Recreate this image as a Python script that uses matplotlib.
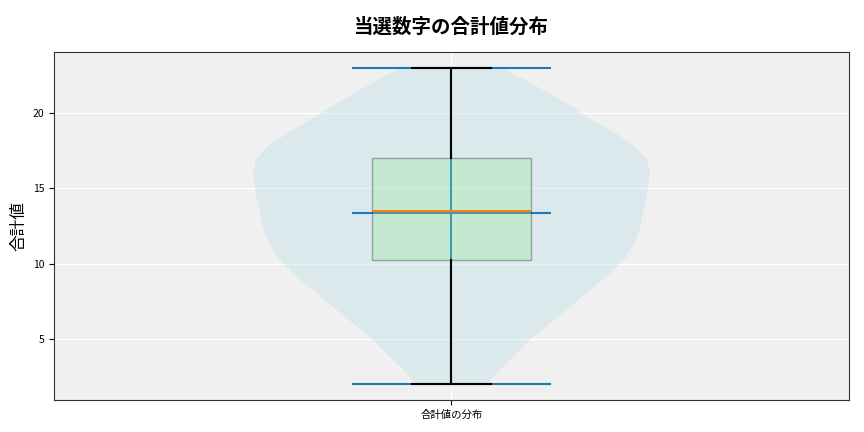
import matplotlib
matplotlib.use("Agg")
import matplotlib.pyplot as plt

plt.rcParams['font.family'] = ['Noto Sans CJK JP', 'DejaVu Sans']

# violin outline: y value -> half-width (relative)
coords = [2.0, 2.18, 2.85, 3.74, 4.84, 5.95, 7.05, 8.16, 9.26, 10.37, 11.47, 12.36,
          13.58, 14.68, 16.01, 16.9, 17.78, 18.67, 19.55, 20.43, 21.32, 22.2, 23.0]
density = [36, 38, 46.5, 60, 76.5, 96.5, 116.5, 136.5, 156.5, 173, 183, 188,
           191.5, 195, 198, 195, 183, 163, 140, 120, 96.5, 73, 49]

# summary numbers
total_min = 2
total_max = 23
total_mean = 13.38
total_median = 13.5
q1 = 10.25
q3 = 17.0

title = '当選数字の合計値分布'
ylabel = '合計値'
xlabel_tick = '合計値の分布'

fig = plt.figure(figsize=(8.64, 4.32), dpi=100)
ax = fig.add_axes([0.0625, 0.074, 0.92, 0.806])
ax.set_facecolor('#f0f0f0')
ax.grid(True, color='white', linewidth=1)
ax.set_axisbelow(True)

vp = ax.violin([{
    'coords': coords,
    'vals': density,
    'mean': total_mean,
    'median': total_median,
    'min': total_min,
    'max': total_max,
}], positions=[1], widths=0.5, showmeans=True, showextrema=True)
for body in vp['bodies']:
    body.set_facecolor('lightblue')
    body.set_edgecolor('none')
    body.set_alpha(0.3)

bp = ax.bxp([{
    'med': total_median,
    'q1': q1,
    'q3': q3,
    'whislo': total_min,
    'whishi': total_max,
    'fliers': [],
    'label': xlabel_tick,
}], positions=[1], widths=0.2, patch_artist=True, showfliers=False,
    medianprops={'color': 'C1', 'linewidth': 1.5},
    whiskerprops={'linewidth': 1.5}, capprops={'linewidth': 1.5})
for box in bp['boxes']:
    box.set_facecolor('lightgreen')
    box.set_edgecolor('black')
    box.set_alpha(0.3)

ax.set_xlim(0.5, 1.5)
ax.set_title(title, fontsize=14, fontweight='bold', pad=14)
ax.set_ylabel(ylabel, fontsize=12)
ax.tick_params(labelsize=7.5)
for s in ax.spines.values():
    s.set_color('#333333')

fig.savefig('out.png')
